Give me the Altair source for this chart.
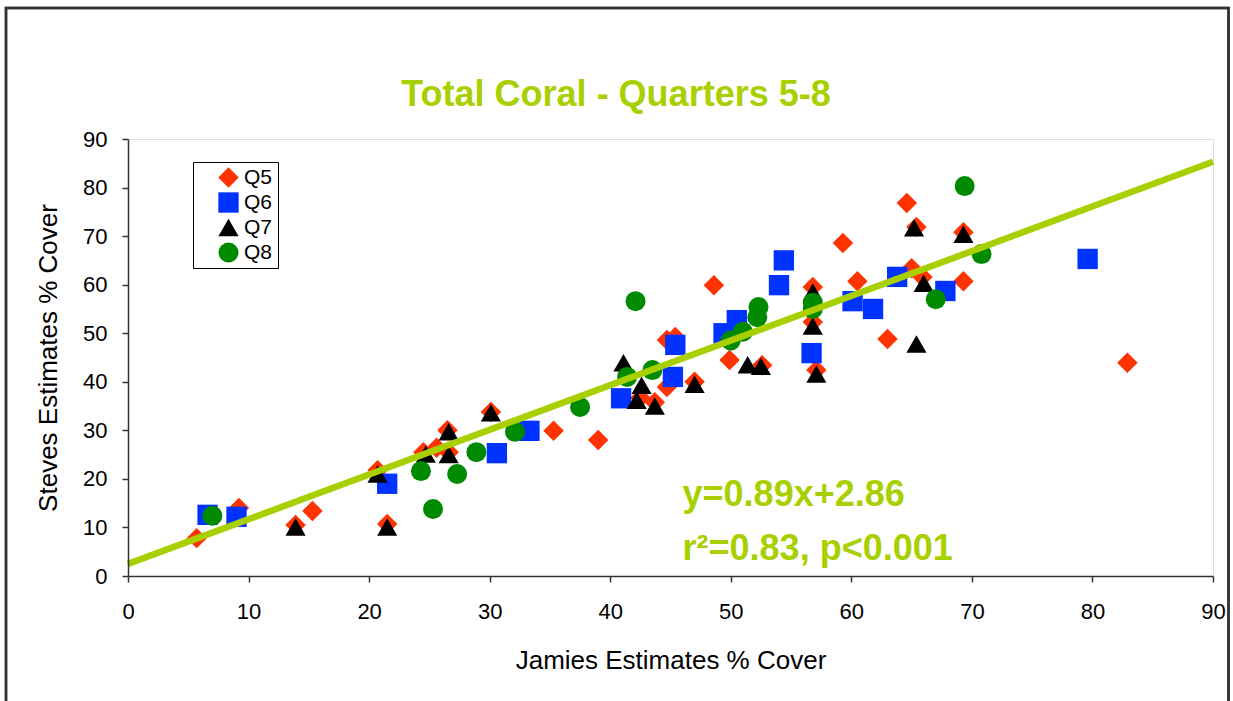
import altair as alt
import pandas as pd

# ---- data ----
series_names = ["Q5", "Q6", "Q7", "Q8"]

q5_x = [5.7, 9.2, 13.9, 15.3, 21.5, 20.7, 24.5, 25.6, 26.5, 26.6, 30.1, 35.3, 39.0,
        42.5, 43.7, 44.7, 44.7, 45.4, 47.0, 48.6, 49.9, 52.6, 56.8, 56.8, 57.1, 59.3,
        60.5, 63.0, 64.6, 65.0, 65.4, 65.9, 69.3, 69.3, 82.9]
q5_y = [7.8, 14.0, 10.5, 13.4, 10.7, 21.8, 25.5, 26.4, 30.0, 25.5, 33.8, 29.9, 28.0,
        36.7, 35.8, 38.9, 48.6, 49.2, 40.0, 59.9, 44.5, 43.4, 59.5, 52.3, 42.4, 68.6,
        60.7, 48.8, 76.8, 63.4, 71.9, 61.6, 60.7, 70.8, 43.9]

q6_x = [6.6, 9.0, 21.5, 30.6, 33.3, 40.9, 45.2, 45.4, 49.4, 50.5, 54.0, 54.4, 56.7,
        60.1, 61.8, 63.8, 67.8, 79.6]
q6_y = [12.6, 12.2, 19.0, 25.3, 29.9, 36.6, 41.0, 47.6, 50.0, 52.7, 59.9, 65.0, 45.9,
        56.6, 55.0, 61.6, 58.7, 65.3]

q7_x = [13.9, 21.5, 20.7, 24.7, 26.6, 26.6, 30.1, 41.1, 42.2, 42.6, 43.7, 47.0, 51.4,
        52.5, 56.8, 56.8, 57.1, 65.2, 65.4, 66.0, 69.3]
q7_y = [10.1, 10.1, 21.0, 25.1, 29.7, 25.0, 33.6, 43.9, 36.2, 39.3, 35.0, 39.5, 43.5,
        43.2, 51.5, 58.5, 41.6, 71.7, 47.8, 60.3, 70.4]

q8_x = [7.0, 24.3, 25.3, 27.3, 28.9, 32.1, 37.5, 41.4, 43.5, 42.1, 50.0, 51.0, 52.2,
        52.3, 56.8, 56.8, 67.0, 69.4, 70.8]
q8_y = [12.4, 21.6, 13.8, 21.0, 25.5, 29.7, 34.8, 41.0, 42.4, 56.6, 48.5, 50.3, 53.3,
        55.4, 56.3, 55.0, 57.0, 80.3, 66.3]

fit_x = [0, 90]
fit_y = [2.5, 85.3]

ann_text = ["y=0.89x+2.86", "r\u00b2=0.83, p<0.001"]
ann_x = [46.0, 46.0]
ann_y = [14.4, 3.3]

title_text = ["Total Coral - Quarters 5-8"]

x_ticks = [0, 10, 20, 30, 40, 50, 60, 70, 80, 90]
y_ticks = [0, 10, 20, 30, 40, 50, 60, 70, 80, 90]

# ---- tables ----
rows = []
for name, xs, ys in zip(series_names, [q5_x, q6_x, q7_x, q8_x], [q5_y, q6_y, q7_y, q8_y]):
    for a, b in zip(xs, ys):
        rows.append({"series": name, "jamie": a, "steve": b})
pts = pd.DataFrame(rows)
fit = pd.DataFrame({"jamie": fit_x, "steve": fit_y})
ann = pd.DataFrame({"jamie": ann_x, "steve": ann_y, "label": ann_text})
ttl = pd.DataFrame({"label": title_text})

LIME = "#A8D000"
FONT = "Liberation Sans"

xscale = alt.Scale(domain=[0, 90], nice=False, zero=False)
yscale = alt.Scale(domain=[0, 90], nice=False, zero=False)

xaxis = alt.Axis(values=x_ticks, title="Jamies Estimates % Cover", grid=False,
                 labelFontSize=22, titleFontSize=26, labelFont=FONT, titleFont=FONT,
                 titleFontWeight="normal", labelColor="black", titleColor="black",
                 domainColor="#333333", domainWidth=1.5, tickColor="#333333", tickWidth=1.5,
                 tickSize=6, labelPadding=19, titleY=84, titleBaseline="middle",
                 labelFlush=False, labelOverlap=False, zindex=1)
yaxis = alt.Axis(values=y_ticks, title="Steves Estimates % Cover", grid=False,
                 labelFontSize=22, titleFontSize=26, labelFont=FONT, titleFont=FONT,
                 titleFontWeight="normal", labelColor="black", titleColor="black",
                 domainColor="#333333", domainWidth=1.5, tickColor="#333333", tickWidth=1.5,
                 tickSize=6, labelPadding=15, titleX=-80, titleY=218.5, titleAngle=-90,
                 titleBaseline="middle", titleAlign="center",
                 labelFlush=False, labelOverlap=False, zindex=1)

points = alt.Chart(pts).mark_point(filled=True, opacity=1, strokeWidth=0).encode(
    x=alt.X("jamie:Q", scale=xscale, axis=xaxis),
    y=alt.Y("steve:Q", scale=yscale, axis=yaxis),
    color=alt.Color("series:N",
                    scale=alt.Scale(domain=series_names,
                                    range=["#FF3300", "#0033FF", "#000000", "#008A00"]),
                    legend=alt.Legend(title=None, orient="none", legendX=65, legendY=23,
                                      strokeColor="black", fillColor="white", padding=5,
                                      symbolOffset=20, labelOffset=5, rowPadding=3,
                                      labelFontSize=21, labelFont=FONT, labelColor="black",
                                      symbolSize=260, symbolStrokeWidth=0,
                                      labelExpr="datum.label + '   '")),
    shape=alt.Shape("series:N",
                    scale=alt.Scale(domain=series_names,
                                    range=["diamond", "square", "triangle-up", "circle"])),
    size=alt.Size("series:N",
                  scale=alt.Scale(domain=series_names, range=[420, 400, 400, 850]),
                  legend=None),
)

line = alt.Chart(fit).mark_line(color=LIME, strokeWidth=6.5, clip=False).encode(
    x="jamie:Q", y="steve:Q"
)

texts = alt.Chart(ann).mark_text(align="left", baseline="alphabetic", fontSize=36,
                                 fontWeight="bold", font=FONT, color=LIME).encode(
    x="jamie:Q", y="steve:Q", text="label:N"
)

title = alt.Chart(ttl).mark_text(align="center", baseline="alphabetic", fontSize=36,
                                 fontWeight="bold", font=FONT, color=LIME).encode(
    x=alt.value(488), y=alt.value(-33), text="label:N"
)

frame = alt.Chart(fit).mark_rect(fill=None, stroke="#333333", strokeWidth=2.5, clip=False).encode(
    x=alt.value(-122), x2=alt.value(1100.5), y=alt.value(-131), y2=alt.value(600)
)

chart = alt.layer(frame, points, line, texts, title).properties(
    width=1085, height=437,
    padding={"left": 128, "top": 139, "right": 20, "bottom": 125},
    autosize=alt.AutoSizeParams(type="none"),
).configure_view(stroke="#BBBBBB", strokeWidth=1.5).configure(background="white")

chart.save("out.html", embed_options={"renderer": "svg", "actions": False})
